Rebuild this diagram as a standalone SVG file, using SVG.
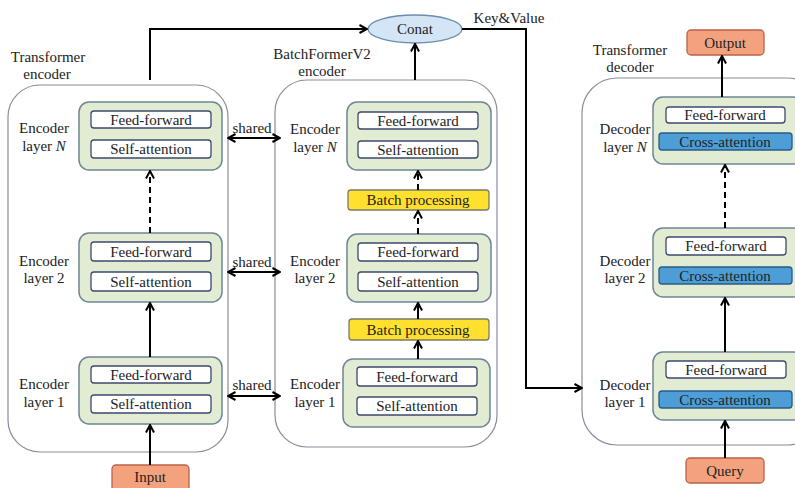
<svg xmlns="http://www.w3.org/2000/svg" width="795" height="488" viewBox="0 0 795 488">
<defs>
<marker id="ah" viewBox="0 0 10 10" refX="9" refY="5" markerWidth="10" markerHeight="10" markerUnits="userSpaceOnUse" orient="auto-start-reverse">
<path d="M1.5,1 L9,5 L1.5,9" fill="none" stroke="#000" stroke-width="2"/>
</marker>
<style>
text{font-family:"Liberation Serif","Times New Roman",serif;font-size:15px;fill:#222;}
.c{text-anchor:middle;dominant-baseline:central;}
.cont{fill:#fff;stroke:#8a8e9c;stroke-width:1.2;}
.layer{fill:#e1ecd2;stroke:#6f8596;stroke-width:1.5;}
.inner{fill:#fff;stroke:#3d4a6e;stroke-width:1.3;}
.cross{fill:#4d9ed6;stroke:#2b5a86;stroke-width:1.3;}
.bp{fill:#ffe02e;stroke:#7a7a66;stroke-width:1.3;}
.io{fill:#f4a27e;stroke:#b8634a;stroke-width:1.3;}
.conat{fill:#d4e6f5;stroke:#6a8db0;stroke-width:1.3;}
.ln{fill:none;stroke:#000;stroke-width:2;}
.dash{fill:none;stroke:#000;stroke-width:2;stroke-dasharray:6,4;}
</style>
</defs>

<!-- containers -->
<g id="transformer-encoder">
<rect class="cont" x="8" y="85" width="220" height="367" rx="32"/>
<text class="c" x="48" y="57">Transformer</text>
<text class="c" x="47" y="74">encoder</text>
</g>
<g id="batchformer-encoder">
<rect class="cont" x="275" y="80" width="222" height="367" rx="32"/>
<text class="c" x="322" y="54">BatchFormerV2</text>
<text class="c" x="322" y="71">encoder</text>
</g>
<g id="transformer-decoder">
<rect class="cont" x="582" y="78" width="240" height="367" rx="35"/>
<text class="c" x="630" y="50">Transformer</text>
<text class="c" x="630" y="67">decoder</text>
</g>

<!-- Transformer encoder layers -->
<g id="enc-N">
<rect class="layer" x="79" y="102" width="143" height="68" rx="10"/>
<rect class="inner" x="91" y="111" width="120" height="17" rx="3"/>
<text class="c" x="151" y="119.5">Feed-forward</text>
<rect class="inner" x="91" y="140" width="120" height="18" rx="3"/>
<text class="c" x="151" y="149">Self-attention</text>
<text class="c" x="44" y="128">Encoder</text>
<text class="c" x="44" y="146">layer <tspan font-style="italic">N</tspan></text>
</g>
<g id="enc-2">
<rect class="layer" x="79" y="233" width="143" height="69" rx="10"/>
<rect class="inner" x="91" y="242" width="120" height="19" rx="3"/>
<text class="c" x="151" y="251.5">Feed-forward</text>
<rect class="inner" x="91" y="272" width="120" height="19" rx="3"/>
<text class="c" x="151" y="281.5">Self-attention</text>
<text class="c" x="44" y="261">Encoder</text>
<text class="c" x="44" y="278">layer 2</text>
</g>
<g id="enc-1">
<rect class="layer" x="79" y="357" width="143" height="67" rx="10"/>
<rect class="inner" x="91" y="366" width="120" height="17" rx="3"/>
<text class="c" x="151" y="374.5">Feed-forward</text>
<rect class="inner" x="91" y="395" width="120" height="18" rx="3"/>
<text class="c" x="151" y="404">Self-attention</text>
<text class="c" x="44" y="384">Encoder</text>
<text class="c" x="44" y="402">layer 1</text>
</g>
<g id="input">
<rect class="io" x="112" y="465" width="77" height="30" rx="4"/>
<text class="c" x="150" y="477">Input</text>
</g>

<!-- BatchFormer layers -->
<g id="bf-N">
<rect class="layer" x="347" y="102" width="144" height="68" rx="10"/>
<rect class="inner" x="358" y="112" width="120" height="17" rx="3"/>
<text class="c" x="418" y="120.5">Feed-forward</text>
<rect class="inner" x="358" y="141" width="120" height="17" rx="3"/>
<text class="c" x="418" y="149.5">Self-attention</text>
<text class="c" x="315" y="129">Encoder</text>
<text class="c" x="315" y="147">layer <tspan font-style="italic">N</tspan></text>
</g>
<g id="bp-2">
<rect class="bp" x="348" y="190" width="141" height="20" rx="3"/>
<text class="c" x="418" y="200">Batch processing</text>
</g>
<g id="bf-2">
<rect class="layer" x="347" y="234" width="144" height="68" rx="10"/>
<rect class="inner" x="358" y="243" width="120" height="18" rx="3"/>
<text class="c" x="418" y="252">Feed-forward</text>
<rect class="inner" x="358" y="272" width="120" height="19" rx="3"/>
<text class="c" x="418" y="281.5">Self-attention</text>
<text class="c" x="315" y="261">Encoder</text>
<text class="c" x="315" y="278">layer 2</text>
</g>
<g id="bp-1">
<rect class="bp" x="349" y="319" width="140" height="21" rx="3"/>
<text class="c" x="418" y="329.5">Batch processing</text>
</g>
<g id="bf-1">
<rect class="layer" x="343" y="359" width="147" height="68" rx="10"/>
<rect class="inner" x="357" y="367" width="120" height="19" rx="3"/>
<text class="c" x="417" y="376.5">Feed-forward</text>
<rect class="inner" x="357" y="397" width="120" height="18" rx="3"/>
<text class="c" x="417" y="406">Self-attention</text>
<text class="c" x="315" y="384">Encoder</text>
<text class="c" x="315" y="402">layer 1</text>
</g>

<g id="conat">
<ellipse class="conat" cx="415" cy="29" rx="47" ry="14"/>
<text class="c" x="415" y="29">Conat</text>
</g>

<!-- Decoder layers -->
<g id="dec-N">
<rect class="layer" x="653" y="97" width="150" height="67" rx="10"/>
<rect class="inner" x="666" y="107" width="119" height="16" rx="3"/>
<text class="c" x="725" y="115">Feed-forward</text>
<rect class="cross" x="659" y="133" width="133" height="17" rx="3"/>
<text class="c" x="725" y="141.5">Cross-attention</text>
<text class="c" x="625" y="129">Decoder</text>
<text class="c" x="625" y="147">layer <tspan font-style="italic">N</tspan></text>
</g>
<g id="dec-2">
<rect class="layer" x="653" y="228" width="150" height="69" rx="10"/>
<rect class="inner" x="666" y="237" width="120" height="18" rx="3"/>
<text class="c" x="726" y="246">Feed-forward</text>
<rect class="cross" x="659" y="267" width="133" height="17" rx="3"/>
<text class="c" x="725" y="275.5">Cross-attention</text>
<text class="c" x="625" y="261">Decoder</text>
<text class="c" x="625" y="278">layer 2</text>
</g>
<g id="dec-1">
<rect class="layer" x="653" y="352" width="150" height="68" rx="10"/>
<rect class="inner" x="666" y="361" width="120" height="17" rx="3"/>
<text class="c" x="726" y="369.5">Feed-forward</text>
<rect class="cross" x="659" y="391" width="133" height="17" rx="3"/>
<text class="c" x="725" y="399.5">Cross-attention</text>
<text class="c" x="625" y="385">Decoder</text>
<text class="c" x="625" y="402">layer 1</text>
</g>
<g id="output">
<rect class="io" x="687" y="30" width="77" height="25" rx="4"/>
<text class="c" x="725" y="42.5">Output</text>
</g>
<g id="query">
<rect class="io" x="686" y="458" width="78" height="25" rx="4"/>
<text class="c" x="725" y="470.5">Query</text>
</g>

<!-- connectors -->
<g id="connectors">
<line class="ln" x1="150" y1="465" x2="150" y2="425" marker-end="url(#ah)"/>
<line class="ln" x1="150" y1="357" x2="150" y2="303" marker-end="url(#ah)"/>
<line class="dash" x1="150" y1="233" x2="150" y2="171" marker-end="url(#ah)"/>
<polyline class="ln" points="150,80 150,29 367,29" marker-end="url(#ah)"/>

<line class="ln" x1="228" y1="138" x2="280" y2="138" marker-start="url(#ah)" marker-end="url(#ah)"/>
<line class="ln" x1="228" y1="272" x2="280" y2="272" marker-start="url(#ah)" marker-end="url(#ah)"/>
<line class="ln" x1="228" y1="396" x2="280" y2="396" marker-start="url(#ah)" marker-end="url(#ah)"/>
<text class="c" x="252" y="128">shared</text>
<text class="c" x="252" y="262">shared</text>
<text class="c" x="252" y="385">shared</text>

<line class="ln" x1="418" y1="359" x2="418" y2="341" marker-end="url(#ah)"/>
<line class="ln" x1="418" y1="319" x2="418" y2="303" marker-end="url(#ah)"/>
<line class="dash" x1="418" y1="234" x2="418" y2="211" marker-end="url(#ah)"/>
<line class="dash" x1="418" y1="190" x2="418" y2="171" marker-end="url(#ah)"/>
<line class="ln" x1="415" y1="80" x2="415" y2="44" marker-end="url(#ah)"/>

<polyline class="ln" points="462,29 526,29 526,388 582,388" marker-end="url(#ah)"/>
<text class="c" x="509" y="18">Key&amp;Value</text>

<line class="ln" x1="725" y1="458" x2="725" y2="421" marker-end="url(#ah)"/>
<line class="ln" x1="725" y1="352" x2="725" y2="298" marker-end="url(#ah)"/>
<line class="dash" x1="725" y1="228" x2="725" y2="165" marker-end="url(#ah)"/>
<line class="ln" x1="722" y1="97" x2="722" y2="56" marker-end="url(#ah)"/>
</g>
</svg>
